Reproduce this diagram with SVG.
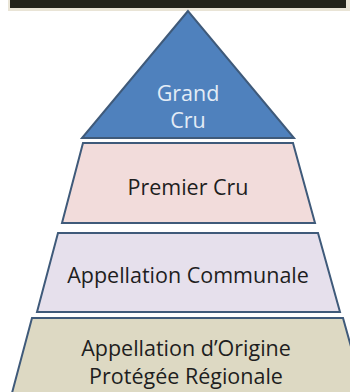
<svg xmlns="http://www.w3.org/2000/svg" width="350" height="392" viewBox="0 0 350 392">
<style>
.tier{stroke:#3F5A7A;stroke-width:2;stroke-linejoin:miter}
.lbl{font-family:"Open Sans","Liberation Sans",sans-serif;font-size:21.5px;text-anchor:middle;fill:#1e1e1e}
.top{fill:#E3ECF6}
</style>
<rect x="0" y="0" width="350" height="392" fill="#ffffff"/>
<g id="banner">
<rect x="8" y="0" width="342" height="11" fill="#E9E4D6"/>
<rect x="10" y="0" width="336" height="8" fill="#23231A"/>
</g>
<g id="grand-cru">
<polygon class="tier" points="188,11 82,138 294,138" fill="#4F81BD"/>
<text class="lbl top" x="188" y="101">Grand</text>
<text class="lbl top" x="188" y="128">Cru</text>
</g>
<g id="premier-cru">
<polygon class="tier" points="83,143 293,143 315,223 62,223" fill="#F2DCDB"/>
<text class="lbl" x="188" y="195">Premier Cru</text>
</g>
<g id="appellation-communale">
<polygon class="tier" points="58,233 318,233 340,312 37,312" fill="#E6E0EC"/>
<text class="lbl" x="188" y="283">Appellation Communale</text>
</g>
<g id="appellation-regionale">
<polygon class="tier" points="32,318 343,318 364,393 12,393" fill="#DDD9C3"/>
<text class="lbl" x="186" y="355.5" font-size="21">Appellation d’Origine</text>
<text class="lbl" x="186" y="384" font-size="21">Protégée Régionale</text>
</g>
<g id="connectors"/>
</svg>
